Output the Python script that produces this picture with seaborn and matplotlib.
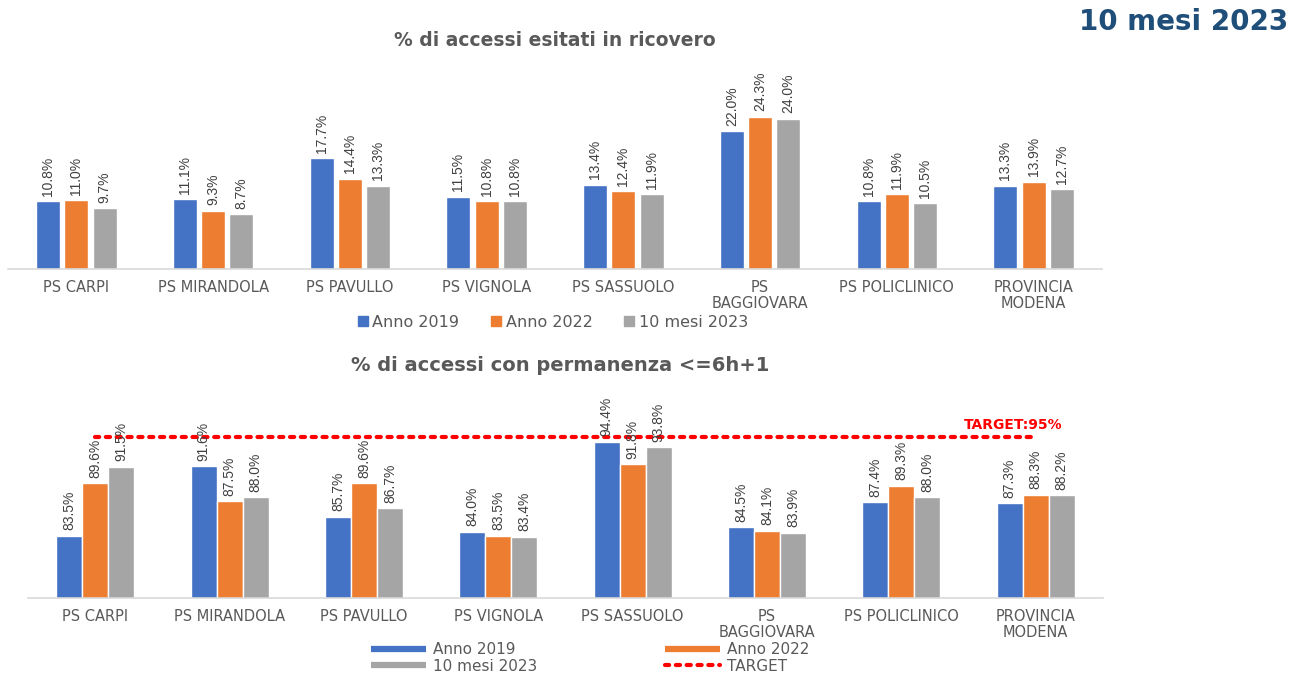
import pandas as pd
import matplotlib
matplotlib.use("Agg")
import matplotlib.pyplot as plt
import seaborn as sns
from matplotlib.patches import Patch
from matplotlib.lines import Line2D

# dati
strutture = ['PS CARPI', 'PS MIRANDOLA', 'PS PAVULLO', 'PS VIGNOLA', 'PS SASSUOLO',
             'PS\nBAGGIOVARA', 'PS POLICLINICO', 'PROVINCIA\nMODENA']
serie = ['Anno 2019', 'Anno 2022', '10 mesi 2023']

ricovero_2019 = [10.8, 11.1, 17.7, 11.5, 13.4, 22.0, 10.8, 13.3]
ricovero_2022 = [11.0, 9.3, 14.4, 10.8, 12.4, 24.3, 11.9, 13.9]
ricovero_2023 = [9.7, 8.7, 13.3, 10.8, 11.9, 24.0, 10.5, 12.7]

perm_2019 = [83.5, 91.6, 85.7, 84.0, 94.4, 84.5, 87.4, 87.3]
perm_2022 = [89.6, 87.5, 89.6, 83.5, 91.8, 84.1, 89.3, 88.3]
perm_2023 = [91.5, 88.0, 86.7, 83.4, 93.8, 83.9, 88.0, 88.2]

target = 95

colori = ['#4472C4', '#ED7D31', '#A5A5A5']
grigio_testo = '#595959'

sns.set_style('white')
plt.rcParams['font.family'] = ['DejaVu Sans']

num_font = ['Liberation Sans Narrow', 'Liberation Sans', 'DejaVu Sans']


def to_long(v19, v22, v23):
    righe = []
    for s, vals in zip(serie, [v19, v22, v23]):
        for st, v in zip(strutture, vals):
            righe.append({'struttura': st, 'serie': s, 'valore': v})
    return pd.DataFrame(righe)


def disegna(ax, df, width, gap):
    sns.barplot(data=df, x='struttura', y='valore', hue='serie', order=strutture,
                hue_order=serie, palette=colori, width=width, gap=gap,
                legend=False, ax=ax, saturation=1, errorbar=None)
    for cont in ax.containers:
        ax.bar_label(cont, labels=[f"{b.get_height():.1f}%" for b in cont],
                     rotation=90, padding=4, fontsize=10, color='#404040',
                     family=num_font, fontstretch='condensed')
    for s in ['top', 'right', 'left']:
        ax.spines[s].set_visible(False)
    ax.spines['bottom'].set_color('#d9d9d9')
    ax.spines['bottom'].set_linewidth(1.2)
    ax.set_yticks([])
    ax.set_xlabel('')
    ax.set_ylabel('')
    ax.tick_params(axis='x', length=0, pad=8, labelsize=10.5, labelcolor=grigio_testo)
    for lab in ax.get_xticklabels():
        lab.set_linespacing(1.05)
    ax.set_xlim(-0.5, len(strutture) - 0.5)


fig = plt.figure(figsize=(12.9, 6.73), dpi=100)

# grafico 1
ax1 = fig.add_axes([8 / 1290, 0.6003, 1094 / 1290, 0.2793])
disegna(ax1, to_long(ricovero_2019, ricovero_2022, ricovero_2023), 0.62, 0.15)
ax1.set_ylim(0, 30)
fig.text(555 / 1290, 1 - 40 / 673, '% di accessi esitati in ricovero', ha='center', va='center',
         fontsize=13.5, fontweight='bold', color=grigio_testo)
fig.legend(handles=[Patch(color=c, label=s) for c, s in zip(colori, serie)],
           loc='center', bbox_to_anchor=(553 / 1290, 1 - 322 / 673), ncol=3, frameon=False,
           handlelength=0.6, handleheight=0.6, handletextpad=0.3, columnspacing=2.0,
           fontsize=11.5, labelcolor=grigio_testo)

# grafico 2
ax2 = fig.add_axes([28 / 1290, 0.1114, 1075 / 1290, 0.2651])
disegna(ax2, to_long(perm_2019, perm_2022, perm_2023), 0.58, 0)
ax2.set_ylim(76.3, 97)
ax2.plot([0, 7], [target, target], color='#FF0000', linestyle=(0, (1, 1.6)),
         linewidth=3, dash_capstyle='round')
ax2.text(7.2, target + 0.6, f'TARGET:{target}%', ha='right', va='bottom',
         fontsize=10, fontweight='bold', color='#FF0000')
fig.text(560 / 1290, 1 - 366 / 673, '% di accessi con permanenza <=6h+1', ha='center',
         va='center', fontsize=14, fontweight='bold', color=grigio_testo)
handles2 = [Line2D([], [], color=colori[0], lw=4.5, solid_capstyle='butt', label='Anno 2019'),
            Line2D([], [], color=colori[2], lw=4.5, solid_capstyle='butt', label='10 mesi 2023'),
            Line2D([], [], color=colori[1], lw=4.5, solid_capstyle='butt', label='Anno 2022'),
            Line2D([], [], color='#FF0000', lw=3, linestyle=(0, (1, 1.6)),
                   dash_capstyle='round', label='TARGET')]
fig.legend(handles=handles2, loc='center', bbox_to_anchor=(590 / 1290, 1 - 658 / 673),
           ncol=2, frameon=False, handlelength=3.6, handletextpad=0.45, columnspacing=8.4,
           labelspacing=0.1, fontsize=11, labelcolor=grigio_testo)

fig.text(1288 / 1290, 1 - 22 / 673, '10 mesi 2023', ha='right', va='center',
         fontsize=20, fontweight='bold', color='#1F4E79')

fig.savefig('out.png', dpi=100)
